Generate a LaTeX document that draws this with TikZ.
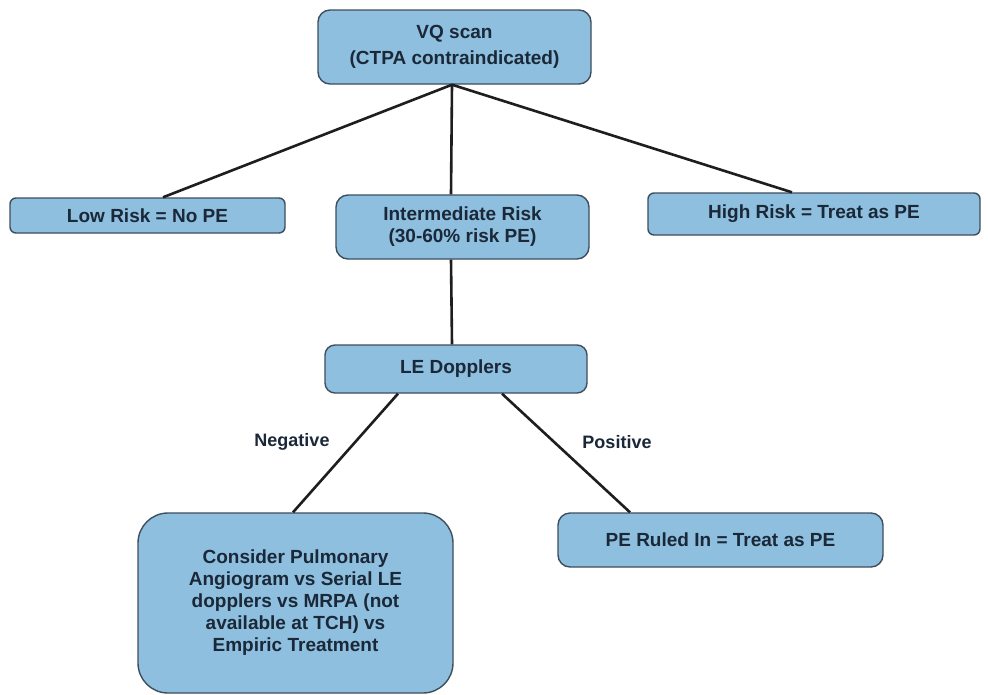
\documentclass[tikz,border=0pt]{standalone}
\usepackage{fontspec}
\setmainfont{Liberation Sans}
\definecolor{boxfill}{RGB}{142,191,223}
\definecolor{boxline}{RGB}{62,78,94}
\definecolor{boxtext}{RGB}{26,40,56}
\definecolor{conn}{RGB}{30,30,30}
\tikzset{
  flowbox/.style={draw=boxline, line width=1.4pt, fill=boxfill, text=boxtext,
    font=\fontsize{19}{22}\selectfont\bfseries, align=center, inner sep=0pt},
  conline/.style={draw=conn, line width=2.6pt},
  edgelabel/.style={text=boxtext, font=\fontsize{18}{20}\selectfont\bfseries}
}
\begin{document}
\begin{tikzpicture}[x=1pt,y=-1pt]
\useasboundingbox[fill=white] (0,0) rectangle (988,694);
\node[flowbox, rounded corners=12pt, minimum width=273pt, minimum height=74pt,
  font=\fontsize{19}{26}\selectfont\bfseries] (vq) at (454.5,47) {VQ scan\\(CTPA contraindicated)};
\node[flowbox, rounded corners=6pt, minimum width=275pt, minimum height=35pt] (low) at (147.5,215.5) {Low Risk = No PE};
\node[flowbox, rounded corners=12pt, minimum width=253pt, minimum height=64pt] (inter) at (462.5,227) {Intermediate Risk\\(30-60\% risk PE)};
\node[flowbox, rounded corners=6pt, minimum width=332pt, minimum height=42pt] (high) at (814,214) {High Risk = Treat as PE};
\node[flowbox, rounded corners=10pt, minimum width=262pt, minimum height=48pt] (le) at (456,369) {LE Dopplers};
\node[flowbox, rounded corners=30pt, minimum width=315pt, minimum height=180pt] (cons) at (295.5,603) {Consider Pulmonary\\Angiogram vs Serial LE\\dopplers vs MRPA (not\\available at TCH) vs\\Empiric Treatment};
\node[flowbox, rounded corners=12pt, minimum width=325pt, minimum height=54pt] (pe) at (720.5,540) {PE Ruled In = Treat as PE};
\node[edgelabel] (neg) at (292,442) {Negative};
\node[edgelabel] (pos) at (617,442) {Positive};
\coordinate (apex) at ([xshift=-2.5pt]vq.south);
\draw[conline] (apex) -- ([xshift=15.5pt]low.north);
\draw[conline] (apex) -- ([xshift=-11.5pt]inter.north);
\draw[conline] (apex) -- ([xshift=-22pt]high.north);
\draw[conline] ([xshift=-11.5pt]inter.south) -- ([xshift=-4pt]le.north);
\draw[conline] ([xshift=-58pt]le.south) -- ([xshift=-2.5pt]cons.north);
\draw[conline] ([xshift=46pt]le.south) -- ([xshift=-90.5pt]pe.north);
\end{tikzpicture}
\end{document}
